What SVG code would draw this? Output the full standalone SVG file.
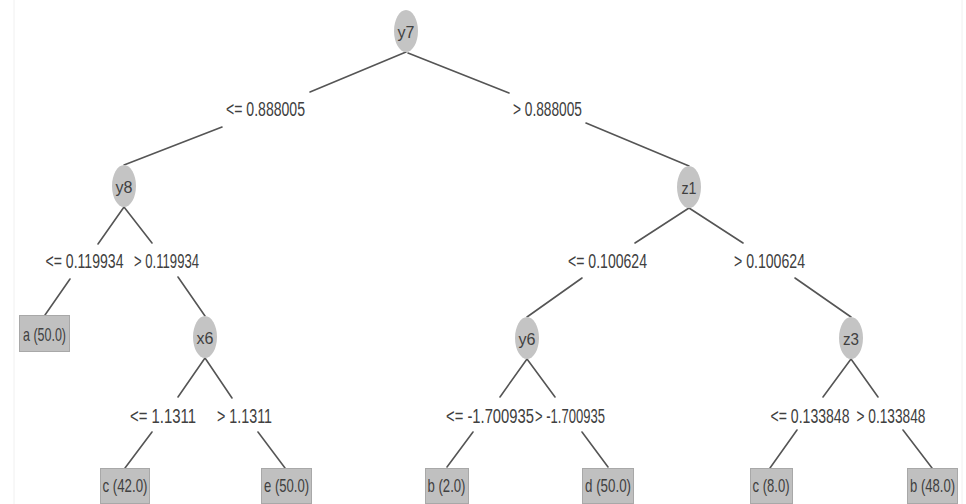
<svg xmlns="http://www.w3.org/2000/svg" width="966" height="504" viewBox="0 0 966 504">
<style>
.bg{fill:#ffffff}
.edge{stroke:#555555;stroke-width:1.6;fill:none;stroke-linecap:round}
.inner{fill:#c4c4c4;stroke:none}
.leaf{fill:#c0c0c0;stroke:#a8a8a8;stroke-width:1}
text{font-family:"Liberation Sans","DejaVu Sans",Arial,sans-serif;fill:#404040;text-anchor:middle}
.lbl{font-size:20px}
.nt{font-size:17px}
.lt{font-size:19px}
.frame{stroke:#f0f0f0;stroke-width:1}
</style>
<rect class="bg" x="0" y="0" width="966" height="504"/>
<line class="frame" x1="14" y1="0" x2="14" y2="504"/>
<line class="frame" x1="962" y1="0" x2="962" y2="504"/>
<g id="connectors">
<polyline class="edge" points="406,52 310,92"/>
<polyline class="edge" points="222,127 124,165"/>
<text class="lbl" x="265.5" y="116" textLength="79" lengthAdjust="spacingAndGlyphs">&lt;= 0.888005</text>
<polyline class="edge" points="408,53 509,93"/>
<polyline class="edge" points="586,123 689,166"/>
<text class="lbl" x="547.5" y="116" textLength="69" lengthAdjust="spacingAndGlyphs">&gt; 0.888005</text>

<polyline class="edge" points="124,207 98,244"/>
<polyline class="edge" points="70,279 45,315"/>
<text class="lbl" x="84.5" y="268" textLength="78" lengthAdjust="spacingAndGlyphs">&lt;= 0.119934</text>
<polyline class="edge" points="124,207 152,243"/>
<polyline class="edge" points="178,277 205,316"/>
<text class="lbl" x="166.5" y="268" textLength="65" lengthAdjust="spacingAndGlyphs">&gt; 0.119934</text>

<polyline class="edge" points="205,358 178,397"/>
<polyline class="edge" points="152,432 125,468"/>
<text class="lbl" x="163" y="423" textLength="66" lengthAdjust="spacingAndGlyphs">&lt;= 1.1311</text>
<polyline class="edge" points="205,358 232,398"/>
<polyline class="edge" points="258,432 285,468"/>
<text class="lbl" x="244.5" y="423" textLength="55" lengthAdjust="spacingAndGlyphs">&gt; 1.1311</text>

<polyline class="edge" points="689,208 635,243"/>
<polyline class="edge" points="582,278 527,317"/>
<text class="lbl" x="607.5" y="268" textLength="79" lengthAdjust="spacingAndGlyphs">&lt;= 0.100624</text>
<polyline class="edge" points="689,208 743,243"/>
<polyline class="edge" points="795,278 851,317"/>
<text class="lbl" x="769.5" y="268" textLength="71" lengthAdjust="spacingAndGlyphs">&gt; 0.100624</text>

<polyline class="edge" points="527,359 500,397"/>
<polyline class="edge" points="473,432 447,467"/>
<text class="lbl" x="490" y="423" textLength="88" lengthAdjust="spacingAndGlyphs">&lt;= -1.700935</text>
<polyline class="edge" points="527,359 555,397"/>
<polyline class="edge" points="582,432 608,467"/>
<text class="lbl" x="570" y="423" textLength="70" lengthAdjust="spacingAndGlyphs">&gt; -1.700935</text>

<polyline class="edge" points="851,359 823,397"/>
<polyline class="edge" points="797,430 770,468"/>
<text class="lbl" x="810" y="423" textLength="79" lengthAdjust="spacingAndGlyphs">&lt;= 0.133848</text>
<polyline class="edge" points="851,359 878,397"/>
<polyline class="edge" points="903,430 932,468"/>
<text class="lbl" x="891" y="423" textLength="69" lengthAdjust="spacingAndGlyphs">&gt; 0.133848</text>
</g>

<g id="y7"><ellipse class="inner" cx="406" cy="31" rx="12" ry="21"/><text class="nt" x="406" y="38" textLength="17" lengthAdjust="spacingAndGlyphs">y7</text></g>
<g id="y8"><ellipse class="inner" cx="124" cy="186" rx="12" ry="21"/><text class="nt" x="124" y="193" textLength="17" lengthAdjust="spacingAndGlyphs">y8</text></g>
<g id="z1"><ellipse class="inner" cx="689" cy="187" rx="12" ry="21"/><text class="nt" x="689" y="194" textLength="15" lengthAdjust="spacingAndGlyphs">z1</text></g>
<g id="x6"><ellipse class="inner" cx="205" cy="337" rx="12" ry="21"/><text class="nt" x="205" y="344" textLength="17" lengthAdjust="spacingAndGlyphs">x6</text></g>
<g id="y6"><ellipse class="inner" cx="527" cy="338" rx="12" ry="21"/><text class="nt" x="527" y="345" textLength="17" lengthAdjust="spacingAndGlyphs">y6</text></g>
<g id="z3"><ellipse class="inner" cx="851" cy="338" rx="12" ry="21"/><text class="nt" x="851" y="345" textLength="16" lengthAdjust="spacingAndGlyphs">z3</text></g>

<g id="leaf_a50"><rect class="leaf" x="19.5" y="315.5" width="50" height="36"/><text class="lt" x="44.5" y="341" textLength="43" lengthAdjust="spacingAndGlyphs">a (50.0)</text></g>
<g id="leaf_c42"><rect class="leaf" x="100.5" y="468.5" width="49" height="35"/><text class="lt" x="125" y="492" textLength="45" lengthAdjust="spacingAndGlyphs">c (42.0)</text></g>
<g id="leaf_e50"><rect class="leaf" x="261.5" y="468.5" width="50" height="35"/><text class="lt" x="286.5" y="492" textLength="45" lengthAdjust="spacingAndGlyphs">e (50.0)</text></g>
<g id="leaf_b2"><rect class="leaf" x="425.5" y="468.5" width="43" height="35"/><text class="lt" x="446.5" y="492" textLength="38" lengthAdjust="spacingAndGlyphs">b (2.0)</text></g>
<g id="leaf_d50"><rect class="leaf" x="582.5" y="468.5" width="51" height="35"/><text class="lt" x="608" y="492" textLength="46" lengthAdjust="spacingAndGlyphs">d (50.0)</text></g>
<g id="leaf_c8"><rect class="leaf" x="750.5" y="468.5" width="42" height="35"/><text class="lt" x="771" y="492" textLength="37" lengthAdjust="spacingAndGlyphs">c (8.0)</text></g>
<g id="leaf_b48"><rect class="leaf" x="907.5" y="468.5" width="50" height="35"/><text class="lt" x="932.5" y="492" textLength="45" lengthAdjust="spacingAndGlyphs">b (48.0)</text></g>
</svg>
